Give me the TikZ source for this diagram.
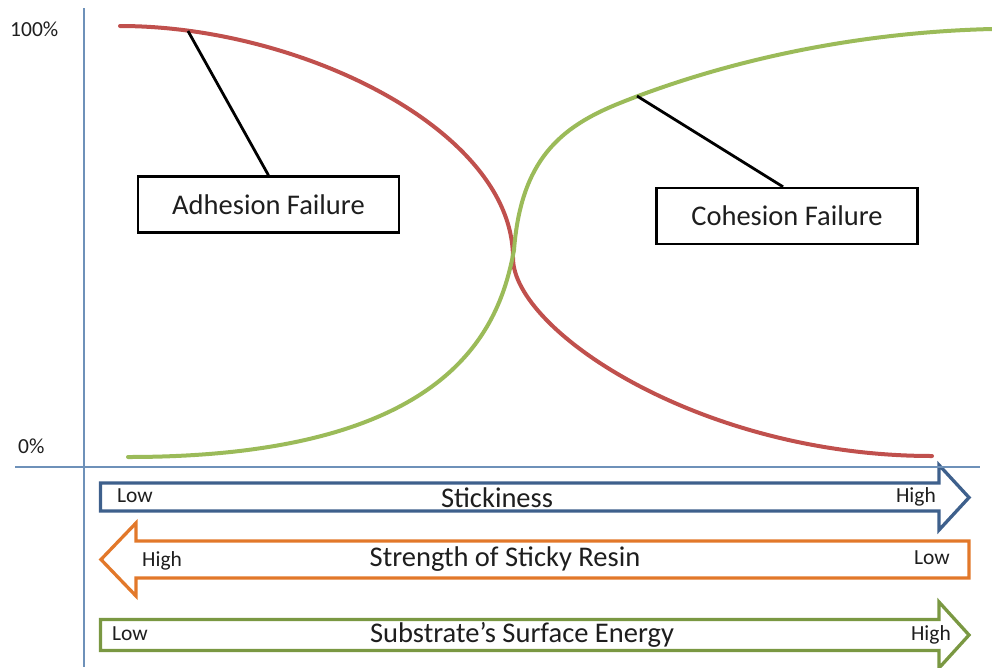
\documentclass[tikz,border=0pt]{standalone}
\usepackage{fontspec}
\setmainfont{Carlito}
\definecolor{redc}{RGB}{192,80,77}
\definecolor{greenc}{RGB}{155,187,89}
\definecolor{axisc}{RGB}{110,145,185}
\definecolor{bluea}{RGB}{62,96,140}
\definecolor{orangea}{RGB}{226,120,42}
\definecolor{greena}{RGB}{122,152,66}
\definecolor{txt}{RGB}{30,30,30}
\begin{document}
\begin{tikzpicture}[x=1pt,y=-1pt,
  big/.style={font=\fontsize{28.5}{33}\selectfont, text=txt},
  small/.style={font=\fontsize{21.5}{25}\selectfont, text=txt},
  labelbox/.style={draw=black, line width=2.4pt, minimum width=261pt, minimum height=56pt, inner sep=0pt, big},
  curve/.style={line width=4pt, line cap=round},
  arrowbody/.style={line width=3.3pt, line join=miter, fill=white},
  axisline/.style={draw=axisc, line width=1.1pt},
  leader/.style={draw=black, line width=2.8pt}]
\useasboundingbox (0,0) rectangle (992,667);

% arrows
\draw[arrowbody, draw=bluea] (100.5,483) -- (939,483) -- (939,465) -- (969,497.5) -- (939,530) -- (939,511) -- (100.5,511) -- cycle;
\draw[arrowbody, draw=orangea] (969,541) -- (136,541) -- (136,523) -- (101,559.5) -- (136,596) -- (136,578) -- (969,578) -- cycle;
\draw[arrowbody, draw=greena] (100.5,619.5) -- (939,619.5) -- (939,602) -- (969,635) -- (939,668) -- (939,650.5) -- (100.5,650.5) -- cycle;

% axes
\coordinate (ytop) at (84,8);
\coordinate (ybot) at (84,667);
\coordinate (xl) at (15,467);
\coordinate (xr) at (980,467);
\draw[axisline] (ytop) -- (ybot);
\draw[axisline] (xl) -- (xr);

% axis labels
\node[small, anchor=base west, inner sep=0pt] (p100) at (10,36) {100\%};
\node[small, anchor=base west, inner sep=0pt] (p0) at (18,453) {0\%};

% curves
\coordinate (rs) at (120,26);
\coordinate (cx) at (513,258);
\coordinate (re) at (932,456);
\draw[curve, draw=redc] (rs) .. controls (300,26) and (513,130) .. (cx)
  .. controls (513,330) and (700,456) .. (re);
\coordinate (gs) at (128,457);
\coordinate (gx) at (514,250);
\coordinate (gm) at (620,103);
\coordinate (ge) at (992,29);
\draw[curve, draw=greenc] (gs) .. controls (455,457) and (500,325) .. (gx)
  .. controls (521,160) and (560,127) .. (gm)
  .. controls (700,71) and (830,33) .. (ge);

% label boxes
\node[labelbox] (adh) at (268.5,204.5) {Adhesion Failure};
\node[labelbox] (coh) at (787,216) {Cohesion Failure};
\coordinate (adhpt) at (188,31);
\coordinate (cohpt) at (637,96);
\draw[leader] (adhpt) -- (adh.north);
\draw[leader] (cohpt) -- ([xshift=-4pt]coh.north);

% arrow texts
\node[small, anchor=base west, inner sep=0pt] (lowA) at (117,502) {Low};
\node[big, anchor=base, inner sep=0pt] (stick) at (497,507) {Stickiness};
\node[small, anchor=base east, inner sep=0pt] (highA) at (936,502) {High};

\node[small, anchor=base west, inner sep=0pt] (highB) at (142,566) {High};
\node[big, anchor=base, inner sep=0pt] (resin) at (505,566) {Strength of Sticky Resin};
\node[small, anchor=base east, inner sep=0pt] (lowB) at (950,564) {Low};

\node[small, anchor=base west, inner sep=0pt] (lowC) at (112,640) {Low};
\node[big, anchor=base, inner sep=0pt] (surf) at (522,642) {Substrate’s Surface Energy};
\node[small, anchor=base east, inner sep=0pt] (highC) at (951,640) {High};
\end{tikzpicture}
\end{document}
